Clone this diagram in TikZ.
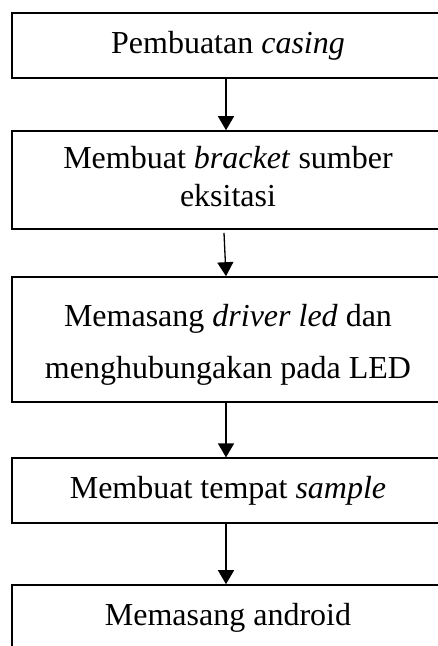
\documentclass[tikz,border=0pt]{standalone}
\usepackage{fontspec}
\setmainfont{Liberation Serif}
\usetikzlibrary{arrows.meta}
\begin{document}
\begin{tikzpicture}[x=1pt,y=-1pt,
box/.style={draw,line width=1.6pt,minimum width=428pt,inner sep=0pt},
txt/.style={align=center,inner sep=0pt,font=\fontsize{32}{38.4}\selectfont},
arr/.style={line width=1.3pt,-{Triangle[width=16pt,length=14pt]}}]

\useasboundingbox (0,0) rectangle (438,646);
\clip (0,0) rectangle (438,646);

\node[box,minimum height=65pt] (b1) at (226,45.5) {};
\node[box,minimum height=98pt] (b2) at (226,180) {};
\node[box,minimum height=125pt] (b3) at (226,339.5) {};
\node[box,minimum height=65pt] (b4) at (226,490.7) {};
\node[box,minimum height=100pt] (b5) at (226,635) {};

\node[txt] (t1) at (228,45.9) {Pembuatan \textit{casing}};
\node[txt] (t2) at (228,176.5) {Membuat \textit{bracket} sumber\\eksitasi};
\node[txt,font=\fontsize{32}{51.3}\selectfont] (t3) at (228,344.9) {Memasang \textit{driver led} dan\\menghubungakan pada LED};
\node[txt] (t4) at (228,490.9) {Membuat tempat \textit{sample}};
\node[txt] (t5) at (228,617.6) {Memasang android};

\draw[arr] (b1) -- (b2);
\draw[arr] ([xshift=-2pt,yshift=-3pt]b2.south) -- (b3.north);
\draw[arr] (b3) -- (b4);
\draw[arr] (b4) -- (b5);

\end{tikzpicture}
\end{document}
